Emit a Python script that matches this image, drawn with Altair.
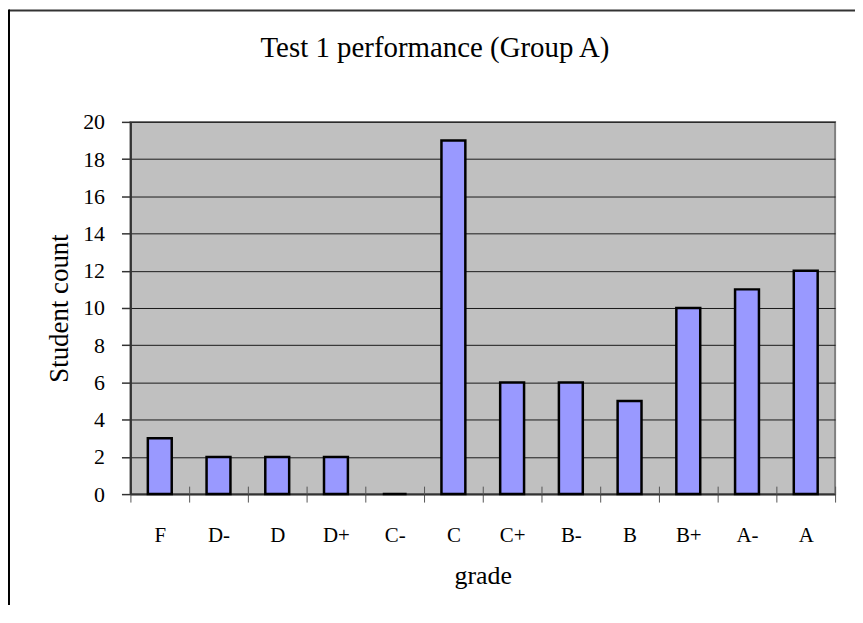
import altair as alt
import pandas as pd

grades = ["F", "D-", "D", "D+", "C-", "C", "C+", "B-", "B", "B+", "A-", "A"]
counts = [3, 2, 2, 2, 0, 19, 6, 6, 5, 10, 11, 12]
y_ticks = [0, 2, 4, 6, 8, 10, 12, 14, 16, 18, 20]

df = pd.DataFrame({"grade": grades, "count": counts})
FONT = "Liberation Serif"
W, H = 708, 374

xscale = alt.Scale(domain=grades, paddingInner=0, paddingOuter=0)
yscale = alt.Scale(domain=[0, 20], nice=False)
yaxis = alt.Axis(title="Student count", values=y_ticks, grid=True,
                 gridColor="#1a1a1a", gridWidth=1,
                 tickSize=9, tickColor="#333333", tickWidth=1.5,
                 domainColor="#333333", domainWidth=2,
                 labelFont=FONT, labelFontSize=22, labelColor="black",
                 labelPadding=17, titleFont=FONT, titleFontSize=27,
                 titleFontWeight="normal", titleColor="black",
                 titlePadding=9)

bars = alt.Chart(df).mark_bar(
    color="#9999FF", stroke="black", strokeWidth=2.5, size=24
).encode(
    x=alt.X("grade:N", sort=grades, scale=xscale,
            axis=alt.Axis(title="grade", labelAngle=0, tickBand="extent",
                          tickSize=8, tickColor="#555555", tickWidth=1,
                          domainColor="#333333", domainWidth=2,
                          labelFont=FONT, labelFontSize=21, labelColor="black",
                          labelPadding=23, titleFont=FONT, titleFontSize=26,
                          titleFontWeight="normal", titleColor="black",
                          titlePadding=17, grid=False)),
    y=alt.Y("count:Q", scale=yscale, axis=yaxis),
)

inner_ticks = alt.Chart(df).mark_bar(opacity=0).encode(
    x=alt.X("grade:N", sort=grades, scale=xscale,
            axis=alt.Axis(orient="top", offset=-H, labels=False, domain=False,
                          title=None, tickBand="extent", tickSize=8,
                          tickColor="#555555", tickWidth=1, grid=False)),
    y=alt.Y("count:Q", scale=yscale, axis=yaxis),
)

frame_df = pd.DataFrame({"k": [0]})
frame_top = alt.Chart(frame_df).mark_rule(color="#333333", strokeWidth=2, clip=False).encode(
    x=alt.value(-122), x2=alt.value(W + 30), y=alt.value(-112)
)
frame_left = alt.Chart(frame_df).mark_rule(color="black", strokeWidth=2, clip=False).encode(
    x=alt.value(-122), y=alt.value(-113), y2=alt.value(H + 130)
)

chart = alt.layer(bars, inner_ticks, frame_top, frame_left).resolve_axis(
    x="independent"
).properties(
    width=W, height=H,
    title=alt.TitleParams("Test 1 performance (Group A)", font=FONT, fontSize=29,
                          fontWeight="normal", color="black", anchor="middle",
                          dx=-48, offset=-55),
    autosize=alt.AutoSizeParams(type="none"),
    padding={"left": 123, "top": 113, "right": 20, "bottom": 110},
).configure(
    background="white"
).configure_view(
    fill="#C0C0C0", stroke="#808080", strokeWidth=2
)

chart.save("out.html", embed_options={"renderer": "svg", "actions": False})
